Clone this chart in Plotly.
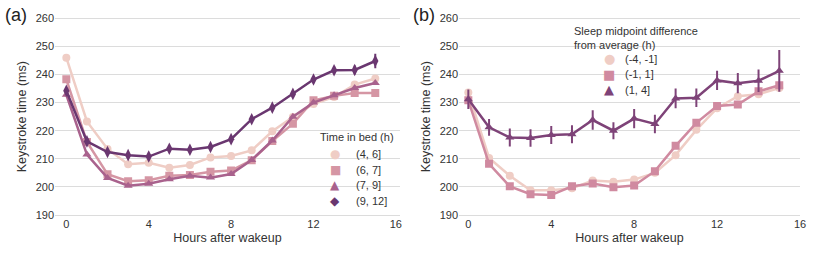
import plotly.graph_objects as go

hours = list(range(16))

# Panel (a): time in bed
bed_labels = ["(4, 6]", "(6, 7]", "(7, 9]", "(9, 12]"]
bed_46 = [246.0, 223.3, 213.5, 208.1, 208.6, 206.8, 207.8, 210.5, 211.0, 213.0, 219.8, 224.9, 229.5, 232.0, 236.4, 238.6]
bed_67 = [238.3, 216.0, 204.5, 202.0, 202.4, 204.0, 204.2, 205.4, 205.8, 209.5, 216.3, 222.5, 230.8, 232.4, 233.4, 233.4]
bed_79 = [232.8, 211.5, 203.2, 200.4, 201.1, 202.7, 204.0, 203.3, 204.6, 209.6, 216.5, 225.0, 230.0, 232.6, 235.2, 237.0]
bed_912 = [234.2, 216.2, 212.4, 211.3, 210.8, 213.6, 213.2, 214.2, 217.0, 224.1, 228.2, 233.1, 238.2, 241.5, 241.6, 244.8]
bed_err_46 = [1.3, 0.8, 0.6, 0.6, 0.6, 0.6, 0.6, 0.6, 0.6, 0.6, 0.7, 0.7, 0.8, 0.8, 0.9, 1.1]
bed_err_67 = [0.9, 0.5, 0.4, 0.4, 0.4, 0.4, 0.4, 0.4, 0.4, 0.4, 0.5, 0.5, 0.5, 0.5, 0.6, 0.7]
bed_err_79 = [0.6, 0.4, 0.3, 0.3, 0.3, 0.3, 0.3, 0.3, 0.3, 0.3, 0.4, 0.4, 0.4, 0.4, 0.5, 0.6]
bed_err_912 = [1.2, 1.0, 0.9, 0.9, 0.9, 0.9, 0.9, 0.9, 1.0, 1.0, 1.1, 1.2, 1.3, 1.4, 1.6, 2.6]

# Panel (b): sleep midpoint difference from average
mid_labels = ["(-4, -1]", "(-1, 1]", "(1, 4]"]
mid_neg = [233.6, 210.3, 204.0, 198.8, 198.8, 199.5, 202.3, 201.8, 202.6, 205.0, 211.3, 220.3, 228.0, 232.3, 233.0, 235.2]
mid_mid = [230.8, 208.2, 200.2, 197.4, 197.1, 200.2, 201.2, 199.9, 200.5, 205.6, 214.6, 222.8, 228.8, 229.3, 234.0, 236.2]
mid_pos = [231.2, 221.2, 217.6, 217.4, 218.5, 218.7, 223.8, 220.0, 224.3, 222.4, 231.5, 231.7, 237.9, 236.9, 237.8, 241.3]
mid_err_neg = [1.1, 0.8, 0.7, 0.7, 0.7, 0.7, 0.7, 0.7, 0.7, 0.7, 0.8, 0.8, 0.9, 0.9, 1.0, 1.2]
mid_err_mid = [1.0, 0.7, 0.6, 0.6, 0.6, 0.6, 0.6, 0.6, 0.6, 0.6, 0.7, 0.7, 0.8, 0.8, 0.9, 1.1]
mid_err_pos = [3.5, 3.0, 3.2, 3.1, 3.2, 3.2, 3.5, 3.0, 3.4, 3.3, 3.5, 3.3, 3.4, 3.6, 4.0, 7.4]

y_ticks = [190, 200, 210, 220, 230, 240, 250, 260]
x_ticks = [0, 4, 8, 12, 16]

colors_a = ["#EFCDC5", "#D596A4", "#A9628D", "#6A3770"]
colors_b = ["#EFCDC5", "#D08AA0", "#7E4378"]
symbols_a = ["circle", "square", "triangle-up", "diamond-tall"]
symbols_b = ["circle", "square", "triangle-up"]
glyphs_a = ["\u25CF", "\u25A0", "\u25B2", "\u25C6"]
glyphs_b = ["\u25CF", "\u25A0", "\u25B2"]

FONT = "Liberation Sans, Arial, sans-serif"
TXT = "#333333"

fig = go.Figure()

series_a = [bed_46, bed_67, bed_79, bed_912]
errs_a = [bed_err_46, bed_err_67, bed_err_79, bed_err_912]
for i, (vals, errs) in enumerate(zip(series_a, errs_a)):
    fig.add_trace(go.Scatter(
        x=hours, y=vals, mode="lines+markers", name=bed_labels[i],
        xaxis="x", yaxis="y", showlegend=False,
        line=dict(color=colors_a[i], width=2.5),
        marker=dict(symbol=symbols_a[i], size=8 if i != 3 else 9, color=colors_a[i]),
        error_y=dict(type="data", array=errs, width=0, thickness=2, color=colors_a[i]),
    ))

series_b = [mid_neg, mid_mid, mid_pos]
errs_b = [mid_err_neg, mid_err_mid, mid_err_pos]
for i, (vals, errs) in enumerate(zip(series_b, errs_b)):
    fig.add_trace(go.Scatter(
        x=hours, y=vals, mode="lines+markers", name=mid_labels[i],
        xaxis="x2", yaxis="y2", showlegend=False,
        line=dict(color=colors_b[i], width=2.5),
        marker=dict(symbol=symbols_b[i], size=8, color=colors_b[i]),
        error_y=dict(type="data", array=errs, width=0, thickness=2, color=colors_b[i]),
    ))

W, H = 830, 260
ydom = [1 - 216.4 / H, 1 - 16.9 / H]

axis_common = dict(showgrid=False, zeroline=False, showline=False, ticks="", ticklen=0, automargin=False,
                   tickfont=dict(family=FONT, size=11, color=TXT),
                   tickvals=x_ticks,
                   title=dict(text="Hours after wakeup", font=dict(family=FONT, size=12.5, color=TXT), standoff=3))
yaxis_common = dict(showgrid=True, gridcolor="#DCDCDC", gridwidth=1, zeroline=False, showline=False,
                    ticks="", ticklen=0, automargin=False, tickvals=y_ticks, range=[189.5, 260.5], domain=ydom,
                    tickfont=dict(family=FONT, size=11, color=TXT),
                    title=dict(text="Keystroke time (ms)", font=dict(family=FONT, size=12.5, color=TXT), standoff=6))

fig.update_layout(
    width=W, height=H, margin=dict(l=0, r=0, t=0, b=0, autoexpand=False),
    paper_bgcolor="white", plot_bgcolor="white",
    showlegend=False,
    xaxis=dict(axis_common, domain=[55 / W, 400 / W], range=[-0.55, 16.2], anchor="y"),
    yaxis=dict(yaxis_common, anchor="x"),
    xaxis2=dict(axis_common, domain=[459 / W, 800 / W], range=[-0.45, 16.0], anchor="y2"),
    yaxis2=dict(yaxis_common, anchor="x2"),
)

ann = []
def px(x):
    return x / W
def py(y):
    return 1 - y / H

ann.append(dict(text="(a)", x=px(3), y=py(15), xref="paper", yref="paper", xanchor="left", yanchor="middle",
                showarrow=False, font=dict(family=FONT, size=18, color="#222222")))
ann.append(dict(text="(b)", x=px(411), y=py(15), xref="paper", yref="paper", xanchor="left", yanchor="middle",
                showarrow=False, font=dict(family=FONT, size=18, color="#222222")))

# Legend (a)
ann.append(dict(text="Time in bed (h)", x=px(318), y=py(137), xref="paper", yref="paper", xanchor="left",
                yanchor="middle", showarrow=False, font=dict(family=FONT, size=11, color=TXT)))
for i, lab in enumerate(bed_labels):
    yy = 154 + i * 15.5
    ann.append(dict(text=glyphs_a[i], x=px(335), y=py(yy), xref="paper", yref="paper", xanchor="center",
                    yanchor="middle", showarrow=False, font=dict(family="DejaVu Sans", size=12, color=colors_a[i])))
    ann.append(dict(text=lab, x=px(354), y=py(yy), xref="paper", yref="paper", xanchor="left",
                    yanchor="middle", showarrow=False, font=dict(family=FONT, size=11, color=TXT)))

# Legend (b)
ann.append(dict(text="Sleep midpoint difference<br>from average (h)", x=px(572), y=py(38), xref="paper", yref="paper",
                xanchor="left", yanchor="middle", align="left", showarrow=False,
                font=dict(family=FONT, size=11, color=TXT)))
for i, lab in enumerate(mid_labels):
    yy = 59 + i * 15.4
    ann.append(dict(text=glyphs_b[i], x=px(609), y=py(yy), xref="paper", yref="paper", xanchor="center",
                    yanchor="middle", showarrow=False, font=dict(family="DejaVu Sans", size=13, color=colors_b[i])))
    ann.append(dict(text=lab, x=px(623), y=py(yy), xref="paper", yref="paper", xanchor="left",
                    yanchor="middle", showarrow=False, font=dict(family=FONT, size=11, color=TXT)))

fig.update_layout(annotations=ann)
fig.write_html("out.html", config={"displayModeBar": False, "staticPlot": True},
               post_script="document.body.style.margin='0px';")
